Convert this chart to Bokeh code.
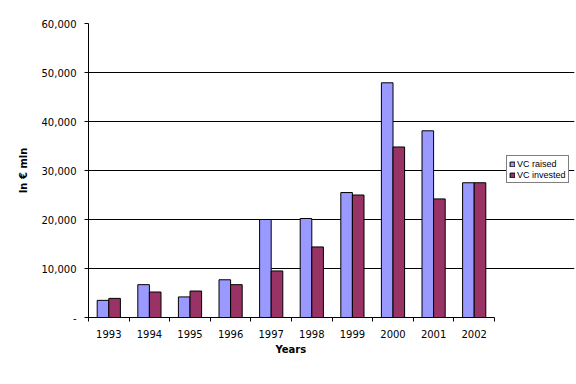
from bokeh.plotting import figure
from bokeh.models import Range1d, FixedTicker, NumeralTickFormatter, Legend, LegendItem, Title
from bokeh.embed import file_html
from bokeh.resources import INLINE

years = ["1993", "1994", "1995", "1996", "1997", "1998", "1999", "2000", "2001", "2002"]
vc_raised = [3500, 6700, 4200, 7700, 20000, 20200, 25500, 47900, 38100, 27500]
vc_invested = [3900, 5200, 5400, 6700, 9500, 14400, 25000, 34800, 24200, 27500]
y_ticks = [0, 10000, 20000, 30000, 40000, 50000, 60000]

n = len(years)
idx = list(range(1, n + 1))
bw = 1 / 3.5
x_raised = [i - bw / 2 for i in idx]
x_invested = [i + bw / 2 for i in idx]

# plot area spans 406 px for the 10 categories; extra room on the right holds the legend
cat_px = 406 / n
frame_w = 486
x_end = 0.5 + frame_w / cat_px

p = figure(frame_width=frame_w, frame_height=294, output_backend="svg", toolbar_location=None,
           x_range=Range1d(0.5, x_end), y_range=Range1d(0, 60000),
           min_border_left=88, min_border_top=23, min_border_right=2, min_border_bottom=67)
p.outline_line_color = None
p.background_fill_color = "white"
p.border_fill_color = "white"

r1 = p.vbar(x=x_raised, top=vc_raised, width=bw, fill_color="#9999FF", line_color="black", line_width=1)
r2 = p.vbar(x=x_invested, top=vc_invested, width=bw, fill_color="#993366", line_color="black", line_width=1)

p.xgrid.visible = False
p.ygrid.grid_line_color = "black"
p.ygrid.grid_line_alpha = 1
p.ygrid.grid_line_width = 1
p.ygrid.ticker = FixedTicker(ticks=y_ticks)
p.ygrid.bounds = (0.5, n + 0.5)

xa = p.xaxis[0]
xa.bounds = (0.5, n + 0.5)
xa.ticker = FixedTicker(ticks=idx, minor_ticks=[i - 0.5 for i in idx] + [n + 0.5])
xa.major_label_overrides = {i: y for i, y in zip(idx, years)}
xa.major_tick_out = 0
xa.major_tick_in = 0
xa.minor_tick_out = 4
xa.minor_tick_in = 0
xa.minor_tick_line_color = "black"
xa.major_label_standoff = 8

ya = p.yaxis[0]
ya.ticker = FixedTicker(ticks=y_ticks)
ya.formatter = NumeralTickFormatter(format="0,0")
ya.major_label_overrides = {0: "-"}
ya.major_tick_out = 4
ya.major_tick_in = 0
ya.minor_tick_out = 0
ya.minor_tick_in = 0
ya.major_label_standoff = 8
ya.axis_label = "In € mln"
ya.axis_label_standoff = 10

for ax in (xa, ya):
    ax.axis_line_color = "black"
    ax.major_tick_line_color = "black"
    ax.major_label_text_font = "DejaVu Sans"
    ax.major_label_text_font_size = "10px"
    ax.major_label_text_color = "black"
    ax.axis_label_text_font = "DejaVu Sans"
    ax.axis_label_text_font_size = "10px"
    ax.axis_label_text_font_style = "bold"
    ax.axis_label_text_color = "black"

# x-axis title placed under the middle of the 10 categories (not under the legend room)
x_title = Title(text="Years", align="left", offset=187,
                text_font="DejaVu Sans", text_font_size="10px", text_font_style="bold",
                text_color="black", standoff=2)
p.add_layout(x_title, "below")

legend = Legend(items=[LegendItem(label="VC raised", renderers=[r1]),
                       LegendItem(label="VC invested", renderers=[r2])],
                location=(418, 134))
legend.label_text_font = "Liberation Sans"
legend.label_text_font_size = "9px"
legend.label_text_color = "black"
legend.glyph_width = 6
legend.glyph_height = 6
legend.label_standoff = 2
legend.label_height = 11
legend.spacing = 0
legend.padding = 2
legend.margin = 0
legend.border_line_color = "black"
legend.border_line_width = 1
legend.background_fill_color = "white"
legend.background_fill_alpha = 1
p.add_layout(legend, "center")

open("out.html", "w").write(file_html(p, INLINE))
